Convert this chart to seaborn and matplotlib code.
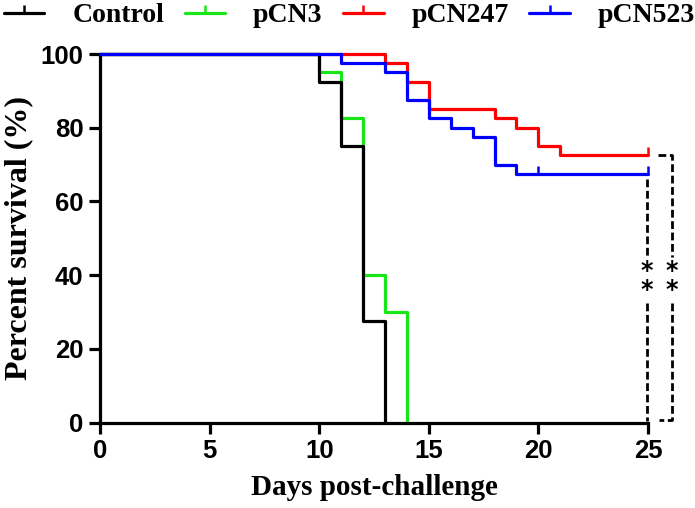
import numpy as np
import pandas as pd
import matplotlib
matplotlib.use("Agg")
import matplotlib.pyplot as plt
from matplotlib.lines import Line2D
import seaborn as sns

# survival curves (day, percent)
groups = ["Control", "pCN3", "pCN247", "pCN523"]
colors = ["#000000", "#19e619", "#ff0000", "#0000ff"]
control_days = [0, 10, 11, 12, 13]
control_surv = [100, 92.5, 75, 27.5, 0]
pcn3_days = [0, 10, 11, 12, 13, 14]
pcn3_surv = [100, 95, 82.5, 40, 30, 0]
pcn247_days = [0, 13, 14, 15, 18, 19, 20, 21, 25]
pcn247_surv = [100, 97.5, 92.5, 85, 82.5, 80, 75, 72.5, 72.5]
pcn523_days = [0, 11, 13, 14, 15, 16, 17, 18, 19, 25]
pcn523_surv = [100, 97.5, 95, 87.5, 82.5, 80, 77.5, 70, 67.5, 67.5]
# censored marks
censor_group = ["pCN247", "pCN523", "pCN523"]
censor_days = [25, 20, 25]
censor_surv = [72.5, 67.5, 67.5]

days = [control_days, pcn3_days, pcn247_days, pcn523_days]
survs = [control_surv, pcn3_surv, pcn247_surv, pcn523_surv]
df = pd.concat([pd.DataFrame({"group": g, "day": d, "surv": s})
                for g, d, s in zip(groups, days, survs)], ignore_index=True)

sns.set_style("ticks")
plt.rcParams["font.family"] = ["Liberation Sans", "DejaVu Sans"]
plt.rcParams["font.weight"] = "bold"
for k in ["text.color", "axes.labelcolor", "xtick.color", "ytick.color", "axes.edgecolor"]:
    plt.rcParams[k] = "black"

tick = [(0, 0), (0, 1)]
pal = dict(zip(groups, colors))
order_z = {"pCN3": 2, "pCN247": 3, "Control": 4, "pCN523": 5}

fig = plt.figure(figsize=(6.95, 5.08), dpi=100)
ax = fig.add_axes([0.1439, 0.1683, 0.7885, 0.7254])

for g in groups:
    sub = df[df["group"] == g]
    sns.lineplot(data=sub, x="day", y="surv", color=pal[g], lw=2.3,
                 drawstyle="steps-post", estimator=None, sort=False,
                 ax=ax, zorder=order_z[g], clip_on=False)

cdf = pd.DataFrame({"group": censor_group, "day": censor_days, "surv": censor_surv})
for g, sub in cdf.groupby("group"):
    ax.plot(sub["day"], sub["surv"], ls="none", marker=tick, markersize=11,
            mec=pal[g], mew=1.8, zorder=order_z[g], clip_on=False)

ax.set_xlim(0, 25)
ax.set_ylim(0, 100)
ax.set_xticks(range(0, 26, 5))
ax.set_yticks(range(0, 101, 20))
sns.despine(ax=ax)
for sp in ["left", "bottom"]:
    ax.spines[sp].set_linewidth(2.3)
ax.tick_params(width=2.3, length=8, labelsize=18.5, pad=4)
for lab in ax.get_xticklabels() + ax.get_yticklabels():
    lab.set_fontweight("bold")

ax.set_xlabel("Days post-challenge", family="Liberation Serif",
              fontsize=21, fontweight="bold", labelpad=8)
ax.set_ylabel("Percent survival (%)", family="Liberation Serif",
              fontsize=23, fontweight="bold", labelpad=5)

# significance brackets
dash = dict(color="black", lw=2.0, dashes=(2.8, 1.3), clip_on=False, zorder=6)
ax.plot([24.95, 24.95], [66, 45], **dash)
ax.plot([24.95, 24.95], [32.5, 0.5], **dash)
ax.plot([25.45, 26.1, 26.1], [72.5, 72.5, 45], **dash)
ax.plot([26.1, 26.1, 25.5], [32.5, 0.7, 0.7], **dash)
for xs in [24.95, 26.1]:
    ax.text(xs, 38.5, "*\n*", ha="center", va="center", linespacing=0.7,
            fontsize=17, family="DejaVu Sans", fontweight="bold", clip_on=False)

handles = [Line2D([], [], color=c, lw=2.3, marker=tick, markersize=11, mew=1.8, mec=c)
           for c in colors]
leg = fig.legend(handles, groups, loc="upper left", bbox_to_anchor=(0.006, 0.994),
                 ncol=4, frameon=False, handlelength=1.45, handletextpad=1.0,
                 columnspacing=0.75, borderpad=0.0, borderaxespad=0,
                 prop={"family": "Liberation Serif", "weight": "bold", "size": 20})

fig.savefig("out.png", dpi=100)
